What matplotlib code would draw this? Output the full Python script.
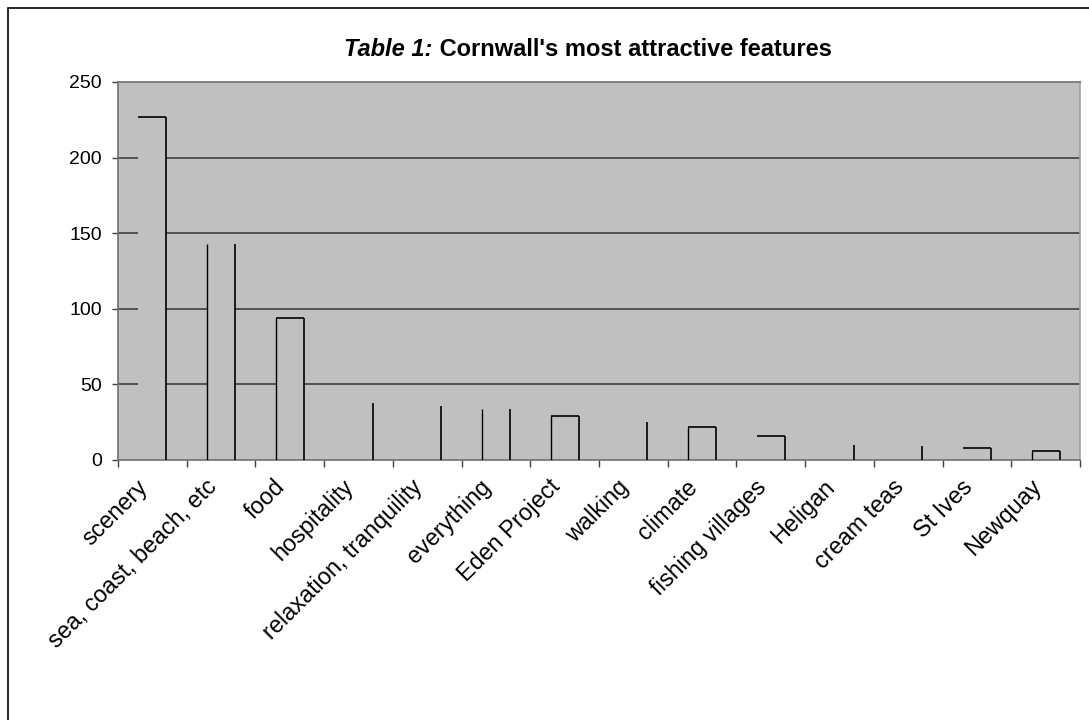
import matplotlib
matplotlib.use("Agg")
import matplotlib.pyplot as plt
from matplotlib import font_manager
from matplotlib.patches import Rectangle
import numpy as np

plt.rcParams["font.family"] = ["Liberation Sans", "DejaVu Sans"]

# Data
categories = [
    "scenery", "sea, coast, beach, etc", "food", "hospitality",
    "relaxation, tranquility", "everything", "Eden Project", "walking",
    "climate", "fishing villages", "Heligan", "cream teas", "St Ives", "Newquay",
]
counts = [227, 143, 94, 38, 36, 34, 29, 25, 22, 16, 10, 9, 8, 6]
yticks = [0, 50, 100, 150, 200, 250]

# Which bar outlines survive in the original rendering (t=top, l=left, r=right)
edges = ["tr", "lr", "tlr", "r", "r", "lr", "tlr", "r", "tlr", "tr", "r", "r", "tr", "tlr"]

plot_bg = "#c0c0c0"

# the category labels look condensed in the original
names = {f.name for f in font_manager.fontManager.ttflist}
if "Liberation Sans Narrow" in names:
    label_font, label_size = "Liberation Sans Narrow", 19
else:
    label_font, label_size = "Liberation Sans", 16.8

fig = plt.figure(figsize=(10.89, 7.2), dpi=100)
ax = fig.add_axes((118 / 1089, 1 - 460 / 720, 962 / 1089, 378 / 720))
ax.set_facecolor(plot_bg)

x = np.arange(len(categories))
bars = ax.bar(x, counts, width=0.41, color=plot_bg, edgecolor="none", zorder=2)

for rect, e in zip(bars, edges):
    x0, w, h = rect.get_x(), rect.get_width(), rect.get_height()
    if "t" in e:
        ax.plot([x0, x0 + w], [h, h], color="black", lw=1.2, zorder=4,
                solid_capstyle="butt")
    if "l" in e:
        ax.plot([x0, x0], [0, h], color="black", lw=1.0, zorder=4,
                solid_capstyle="butt")
    if "r" in e:
        ax.plot([x0 + w, x0 + w], [0, h], color="black", lw=1.2, zorder=4,
                solid_capstyle="butt")

ax.set_xlim(-0.5, len(categories) - 0.5)
ax.set_ylim(0, 250)

# y axis
ax.set_yticks(yticks)
ax.tick_params(axis="y", direction="out", length=4.5, width=1, color="#404040",
               labelsize=14, pad=7)
for yv in yticks[1:-1]:
    ax.axhline(yv, color="#333333", lw=1.1, zorder=1)

# x axis: ticks between categories, labels at the centres
ax.set_xticks(np.arange(-0.5, len(categories), 1))
ax.set_xticklabels([])
ax.tick_params(axis="x", which="major", direction="out", length=5, width=1,
               color="#404040")
ax.set_xticks(x, minor=True)
ax.set_xticklabels(categories, minor=True, rotation=45, ha="right",
                   fontsize=label_size, family=[label_font, "DejaVu Sans"])
ax.tick_params(axis="x", which="minor", length=0, pad=11)

for side in ["left", "bottom", "top"]:
    ax.spines[side].set_color("#707070")
    ax.spines[side].set_linewidth(1.2)
ax.spines["right"].set_color("#a0a0a0")
ax.spines["right"].set_linewidth(1.2)

# outer chart border (cropped at the right and bottom in the original)
fig.add_artist(Rectangle((7.5 / 1089, -0.1), 1.2, 1 - 8 / 720 + 0.1,
                         transform=fig.transFigure, fill=False,
                         edgecolor="black", lw=1.2))

# title: italic "Table 1:" followed by bold text
t1 = fig.text(0, 1 - 56 / 720, "Table 1:", fontsize=17, fontweight="bold",
              fontstyle="italic", va="baseline", ha="left")
t2 = fig.text(0, 1 - 56 / 720, " Cornwall's most attractive features",
              fontsize=17, fontweight="bold", va="baseline", ha="left")
fig.canvas.draw()
r = fig.canvas.get_renderer()
w1 = t1.get_window_extent(r).width
w2 = t2.get_window_extent(r).width
start = 588 - (w1 + w2) / 2
t1.set_x(start / 1089)
t2.set_x((start + w1) / 1089)

fig.savefig("out.png", dpi=100)
